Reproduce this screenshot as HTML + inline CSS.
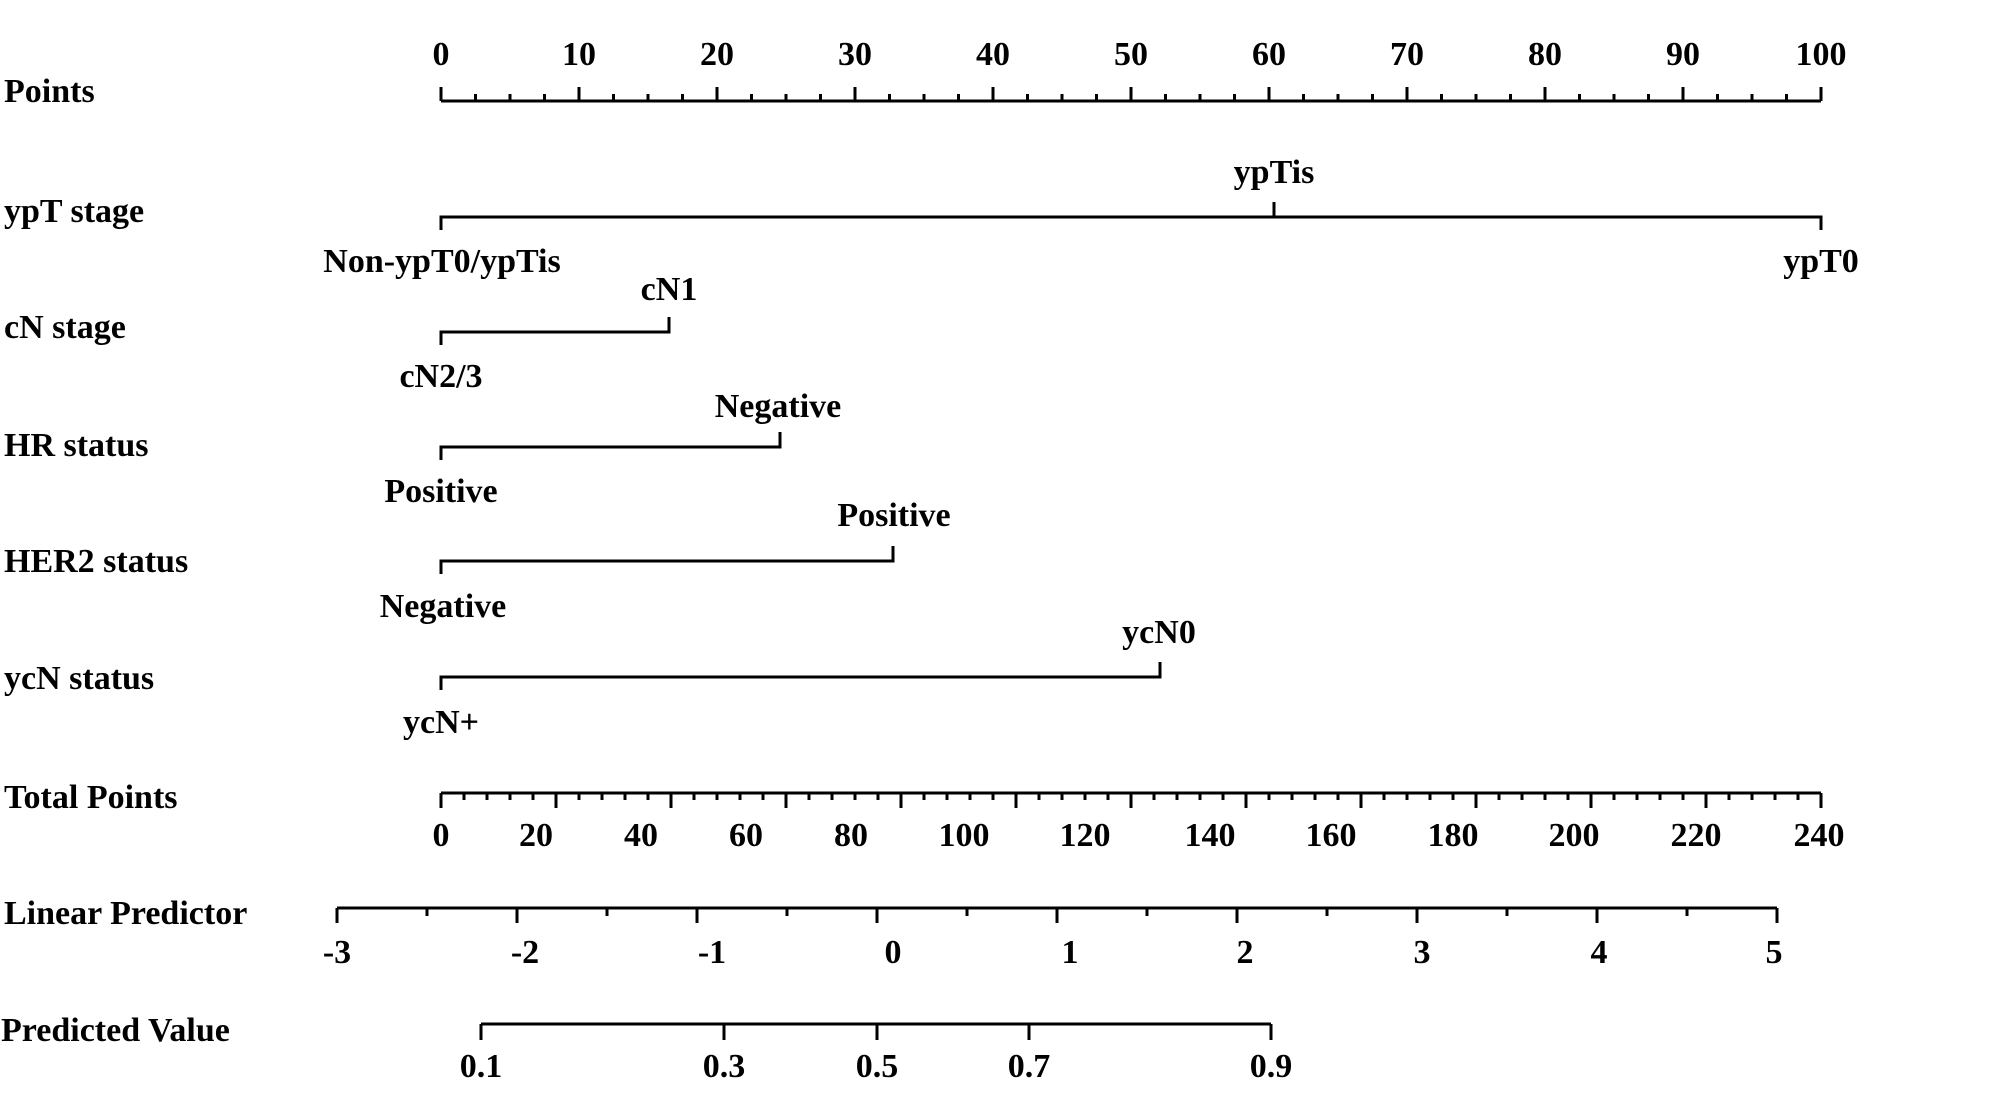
<!DOCTYPE html>
<html><head><meta charset="utf-8"><style>
html,body{margin:0;padding:0;background:#fff;}
svg{display:block;}
text{font-family:"Liberation Serif",serif;font-weight:bold;font-size:34px;fill:#000;}
</style></head><body>
<svg width="2008" height="1120" viewBox="0 0 2008 1120" xmlns="http://www.w3.org/2000/svg">
<g stroke="#000" stroke-width="3" fill="none" id="g">
<line x1="441" y1="101" x2="1821" y2="101"/>
<polyline points="441,230 441,217 1821,217 1821,230"/>
<line x1="1274" y1="217" x2="1274" y2="202"/>
<polyline points="441,345 441,332 669,332 669,317"/>
<polyline points="441,460 441,447 780,447 780,432"/>
<polyline points="441,574 441,561 893,561 893,546"/>
<polyline points="441,690 441,677 1160,677 1160,662"/>
<line x1="441" y1="793" x2="1821" y2="793"/>
<line x1="337" y1="908" x2="1777" y2="908"/>
<line x1="481" y1="1024" x2="1271" y2="1024"/>
<line x1="481" y1="1024" x2="481" y2="1040"/>
<line x1="724" y1="1024" x2="724" y2="1040"/>
<line x1="877" y1="1024" x2="877" y2="1040"/>
<line x1="1029" y1="1024" x2="1029" y2="1040"/>
<line x1="1271" y1="1024" x2="1271" y2="1040"/>
</g>
<g id="labels">
<text x="4" y="102">Points</text>
<text x="4" y="222">ypT stage</text>
<text x="4" y="338">cN stage</text>
<text x="4" y="456">HR status</text>
<text x="4" y="572">HER2 status</text>
<text x="4" y="689">ycN status</text>
<text x="4" y="808">Total Points</text>
<text x="4" y="924">Linear Predictor</text>
<text x="1" y="1041">Predicted Value</text>
<g text-anchor="middle">
<text x="1274" y="183">ypTis</text>
<text x="442" y="272">Non-ypT0/ypTis</text>
<text x="1821" y="272">ypT0</text>
<text x="669" y="300">cN1</text>
<text x="441" y="387">cN2/3</text>
<text x="778" y="417">Negative</text>
<text x="441" y="502">Positive</text>
<text x="894" y="526">Positive</text>
<text x="443" y="617">Negative</text>
<text x="1159" y="643">ycN0</text>
<text x="441" y="733">ycN+</text>
</g>
</g>
<script>
(function(){
var ns="http://www.w3.org/2000/svg",s=document.querySelector('svg');
function L(x1,y1,x2,y2){var l=document.createElementNS(ns,'line');l.setAttribute('x1',x1);l.setAttribute('y1',y1);l.setAttribute('x2',x2);l.setAttribute('y2',y2);l.setAttribute('stroke','#000');l.setAttribute('stroke-width','3');s.appendChild(l);}
function T(x,y,t){var e=document.createElementNS(ns,'text');e.setAttribute('x',x);e.setAttribute('y',y);e.setAttribute('text-anchor','middle');e.textContent=t;s.appendChild(e);}
for(var i=0;i<=40;i++){var x=441+i*2.5*13.8;L(x,101,x,i%4==0?87:94);}
for(var i=0;i<=10;i++){T(441+i*138,65,String(i*10));}
for(var i=0;i<=60;i++){var x=441+i*4*5.75;L(x,793,x,i%5==0?808:800);}
var tl=[536,641,746,851,964,1085,1210,1331,1453,1574,1696,1819];
T(441,846,'0');for(var i=0;i<12;i++)T(tl[i],846,String((i+1)*20));
for(var i=0;i<=16;i++){var x=337+i*90;L(x,908,x,i%2==0?923:916);}
var ll=[337,525,712,893,1070,1245,1422,1599,1774],lv=['-3','-2','-1','0','1','2','3','4','5'];
for(var i=0;i<9;i++)T(ll[i],963,lv[i]);
var pl=[481,724,877,1029,1271],pv=['0.1','0.3','0.5','0.7','0.9'];
for(var i=0;i<5;i++)T(pl[i],1077,pv[i]);
})();
</script>
</svg>
</body></html>
